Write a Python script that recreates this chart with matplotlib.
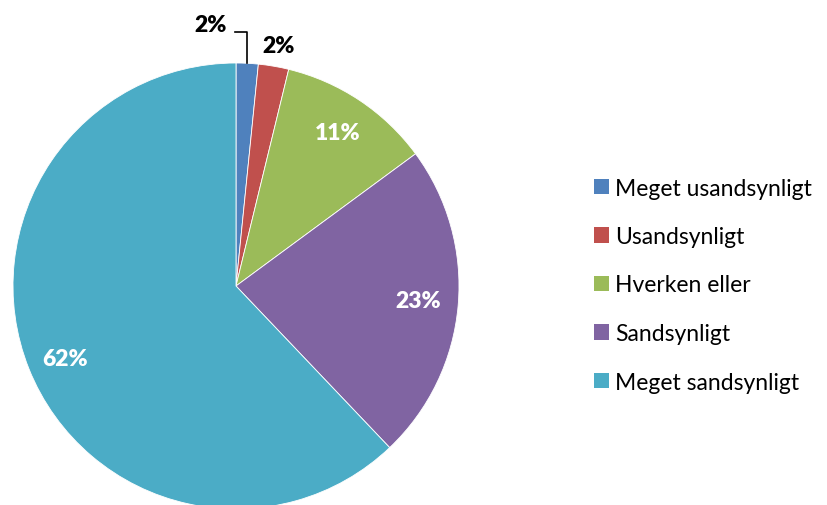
import matplotlib.pyplot as plt

categories = ["Meget usandsynligt", "Usandsynligt", "Hverken eller", "Sandsynligt", "Meget sandsynligt"]
values = [1.6, 2.2, 11.1, 23.0, 62.1]
labels = ["2%", "2%", "11%", "23%", "62%"]
colors = ["#4F81BD", "#C0504D", "#9BBB59", "#8064A2", "#4BACC6"]

W, H = 827, 506


def main():
    plt.rcParams["font.family"] = ["Lato", "DejaVu Sans"]
    fig = plt.figure(figsize=(W / 100, H / 100), dpi=100)
    ax = fig.add_axes([0, 0, 1, 1])

    # pie in pixel coordinates (y measured from bottom)
    wedges, _ = ax.pie(
        values,
        colors=colors,
        startangle=90,
        counterclock=False,
        center=(236, H - 287),
        radius=223,
        wedgeprops=dict(edgecolor="white", linewidth=0.6),
    )
    ax.set_xlim(0, W)
    ax.set_ylim(0, H)
    ax.set_aspect("equal")
    ax.set_axis_off()

    # data labels (pixel positions, y from top)
    label_pos = [(211, 25), (279, 46), (338, 133), (418, 302), (65, 360)]
    label_col = ["black", "black", "white", "white", "white"]
    for txt, (x, y), c in zip(labels, label_pos, label_col):
        ax.text(x, H - y, txt, ha="center", va="center", fontsize=16.5,
                fontweight="heavy", color=c)

    # leader line for first slice
    ax.plot([235, 247, 247], [H - 33, H - 33, H - 64], color="black", lw=1.2)

    leg = ax.legend(
        wedges, categories,
        loc="center left",
        bbox_to_anchor=(573, H - 286),
        bbox_transform=ax.transData,
        frameon=False,
        fontsize=16.5,
        handlelength=0.65,
        handleheight=0.65,
        handletextpad=0.3,
        labelspacing=1.2,
    )
    for h in leg.legend_handles:
        h.set_edgecolor("none")

    fig.savefig("out.png", dpi=100)


if __name__ == "__main__":
    main()
